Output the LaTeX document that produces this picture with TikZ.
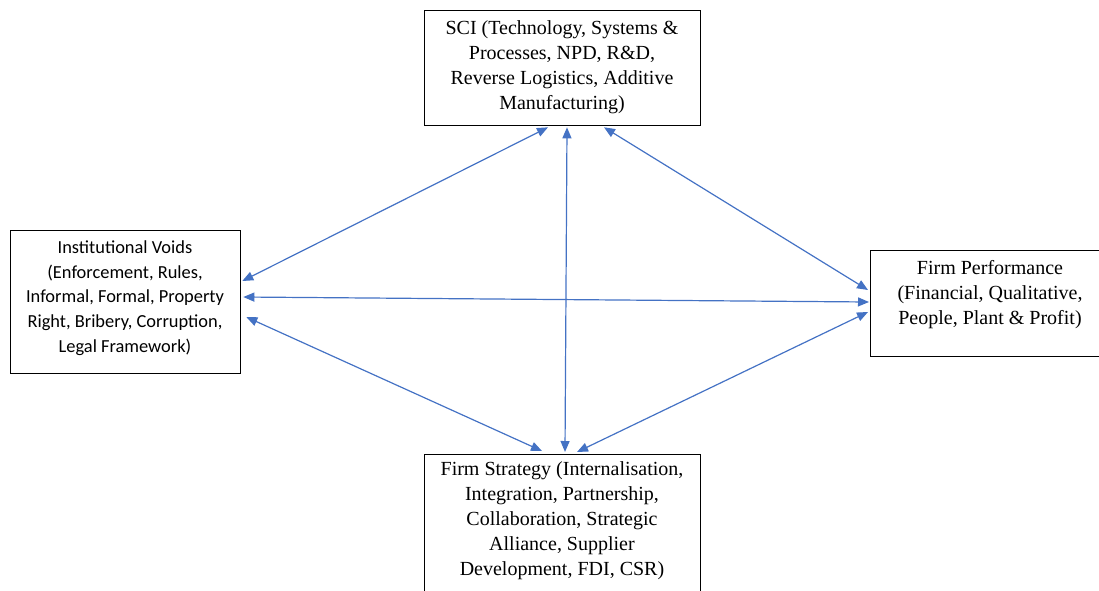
\documentclass[tikz,border=0pt]{standalone}
\usepackage{fontspec}
\setmainfont{Liberation Serif}
\newfontfamily\calibrifont{Carlito}
\usetikzlibrary{arrows.meta,calc}
\definecolor{linkblue}{HTML}{4472C4}
\begin{document}
\begin{tikzpicture}[x=1pt,y=-1pt,
  box/.style={draw=black, line width=1.3pt, rectangle, inner sep=0pt, anchor=north west},
  serif/.style={align=center, font=\fontsize{20}{25}\selectfont, inner sep=0pt},
  sans/.style={align=center, font=\calibrifont\fontsize{18.4}{24.8}\selectfont, inner sep=0pt},
  tip/.style={Triangle[length=11pt,width=9pt]},
  link/.style={draw=linkblue, line width=1.2pt, {Triangle[length=11pt,width=9pt]}-{Triangle[length=11pt,width=9pt]}}]
\useasboundingbox (0,0) rectangle (1099,590);
\clip (0,0) rectangle (1099,590);
% boxes
\node[box, minimum width=276pt, minimum height=115pt] (sci) at (424,10) {};
\node[box, minimum width=230pt, minimum height=143pt] (iv) at (10,230) {};
\node[box, minimum width=240pt, minimum height=106pt] (fp) at (870,250) {};
\node[box, minimum width=276pt, minimum height=160pt] (fs) at (424,454) {};
% box texts
\node[serif] (scit) at (562,67) {SCI (Technology, Systems \&\\ Processes, NPD, R\&D,\\ Reverse Logistics, Additive\\ Manufacturing)};
\node[sans] (ivt) at (125,298) {Institutional Voids\\ (Enforcement, Rules,\\ Informal, Formal, Property\\ Right, Bribery, Corruption,\\ Legal Framework)};
\node[serif] (fpt) at (990,295) {Firm Performance\\ (Financial, Qualitative,\\ People, Plant \& Profit)};
\node[serif] (fst) at (562,521) {Firm Strategy (Internalisation,\\ Integration, Partnership,\\ Collaboration, Strategic\\ Alliance, Supplier\\ Development, FDI, CSR)};
% two-way links
\draw[link] ($(sci.south west)+(124,1)$) -- ($(iv.north east)+(1,51)$);
\draw[link] ($(sci.south west)+(143,1)$) -- ($(fs.north west)+(141,-2)$);
\draw[link] ($(sci.south west)+(180,1)$) -- ($(fp.north west)+(-2,40)$);
\draw[link] ($(iv.north east)+(2,67)$) -- ($(fp.north west)+(-1,52)$);
\draw[link] ($(iv.north east)+(5,87)$) -- ($(fs.north west)+(118,-3)$);
\draw[link] ($(fs.north west)+(153,-2)$) -- ($(fp.north west)+(-2,62)$);
\end{tikzpicture}
\end{document}
